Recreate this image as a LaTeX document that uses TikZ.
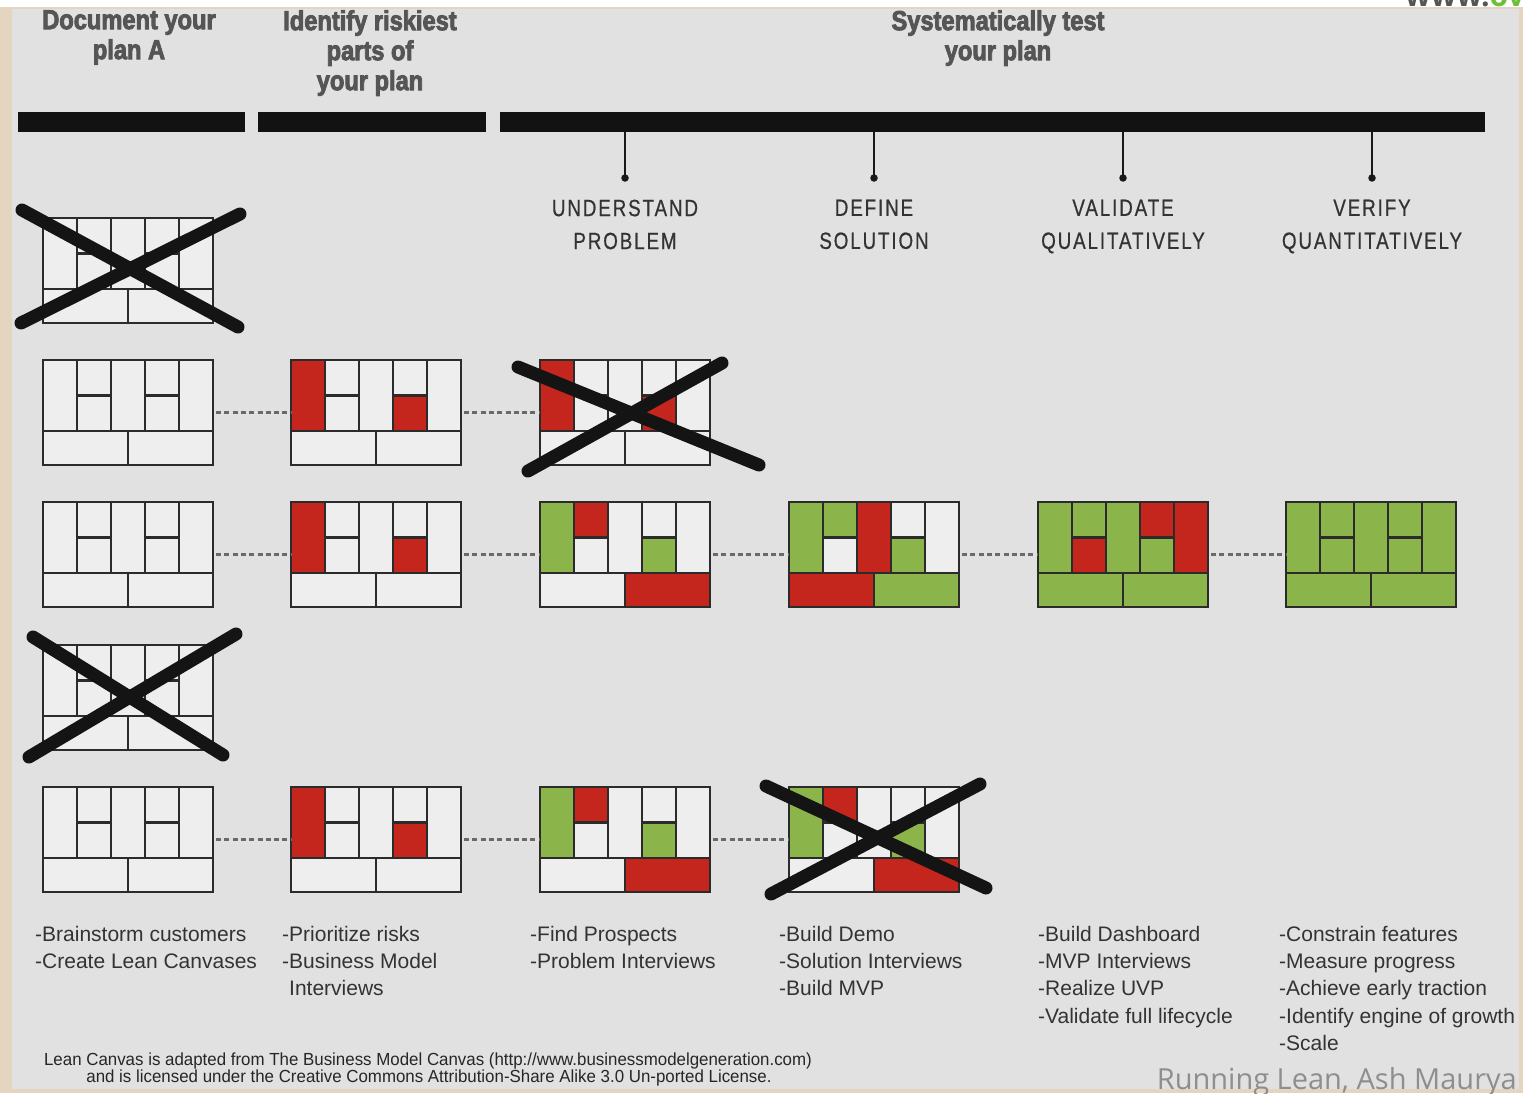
\documentclass[tikz,border=0pt]{standalone}
\usepackage{fontspec}
\setmainfont{Liberation Sans}
\newfontfamily\hdrfont[FakeStretch=0.86,BoldFeatures={FakeBold=3}]{Liberation Sans}
\newfontfamily\stagefont[FakeStretch=0.8,LetterSpace=8,FakeBold=0.6]{Liberation Sans}
\newfontfamily\bulfont{Liberation Sans}
\newfontfamily\footfont[FakeStretch=0.965]{Liberation Sans}
\newfontfamily\osfont{Open Sans}

\definecolor{bgGray}{HTML}{E1E1E1}
\definecolor{beige}{HTML}{E3D5BF}
\definecolor{cW}{HTML}{EEEEEE}
\definecolor{cR}{HTML}{C4261D}
\definecolor{cG}{HTML}{8BB54A}
\definecolor{lineC}{HTML}{2B2B2B}
\definecolor{hdrC}{HTML}{555555}
\definecolor{txtC}{HTML}{333333}
\definecolor{dashC}{HTML}{6A6A6A}
\definecolor{credC}{HTML}{8E8E8E}
\definecolor{wwwG}{HTML}{6BBF3A}

% cell order: c1, c2top, c2bot, c3, c4top, c4bot, c5, bottom-left, bottom-right
\def\pBlank{cW,cW,cW,cW,cW,cW,cW,cW,cW}
\def\pRisk{cR,cW,cW,cW,cW,cR,cW,cW,cW}
\def\pProb{cG,cR,cW,cW,cW,cG,cW,cW,cR}
\def\pSol{cG,cG,cW,cR,cW,cG,cW,cR,cG}
\def\pVal{cG,cG,cR,cG,cR,cG,cR,cG,cG}
\def\pVer{cG,cG,cG,cG,cG,cG,cG,cG,cG}

\newcommand\leancanvas[4]{%
  \node[canvasbox] (#1) at ({#2+85},{#3+52.5}) {};
  \begin{scope}[shift={(#1.north west)}]
    \foreach \ccol [count=\cidx] in #4 {%
      \ifcase\cidx\or
        \def\xa{0}\def\ya{0}\def\xb{34}\def\yb{71}\or
        \def\xa{34}\def\ya{0}\def\xb{68}\def\yb{35.5}\or
        \def\xa{34}\def\ya{35.5}\def\xb{68}\def\yb{71}\or
        \def\xa{68}\def\ya{0}\def\xb{102}\def\yb{71}\or
        \def\xa{102}\def\ya{0}\def\xb{136}\def\yb{35.5}\or
        \def\xa{102}\def\ya{35.5}\def\xb{136}\def\yb{71}\or
        \def\xa{136}\def\ya{0}\def\xb{170}\def\yb{71}\or
        \def\xa{0}\def\ya{71}\def\xb{85}\def\yb{105}\or
        \def\xa{85}\def\ya{71}\def\xb{170}\def\yb{105}\fi
      \fill[\ccol] (\xa,\ya) rectangle (\xb,\yb);
    }
    \draw[cline] (0,0) rectangle (170,105)
      (34,0) -- (34,71) (68,0) -- (68,71) (102,0) -- (102,71) (136,0) -- (136,71)
      (0,71) -- (170,71) (85,71) -- (85,105)
      (34,35.5) -- (68,35.5) (102,35.5) -- (136,35.5);
  \end{scope}
}

\begin{document}
\begin{tikzpicture}[x=1pt,y=-1pt,
  canvasbox/.style={minimum width=170pt,minimum height=105pt,inner sep=0pt,outer sep=0pt},
  cline/.style={draw=lineC,line width=2.2pt},
  conn/.style={draw=dashC,line width=2.2pt,dash pattern=on 5pt off 3.3pt,shorten <=3pt},
  xmark/.style={draw=black!92,line width=13pt,line cap=round},
  hbar/.style={fill=black!93,inner sep=0pt,minimum height=20pt},
  dotn/.style={circle,fill=black!90,inner sep=0pt,minimum size=7.5pt},
  stem/.style={draw=black!90,line width=2.4pt},
  hdr/.style={font=\hdrfont\bfseries\fontsize{27.5}{30}\selectfont,text=hdrC,align=center,inner sep=0pt,anchor=north},
  stage/.style={font=\stagefont\fontsize{23.5}{33}\selectfont,text=txtC,align=center,inner sep=0pt,anchor=north},
  bul/.style={font=\bulfont\fontsize{21}{27.2}\selectfont,text=txtC,align=left,inner sep=0pt,anchor=north west},
  foot/.style={font=\footfont\fontsize{17.5}{18}\selectfont,text=black!85,inner sep=0pt},
]
\useasboundingbox (0,0) rectangle (1523,1093);
% background
\fill[beige] (0,0) rectangle (1523,1093);
\fill[white] (0,0) rectangle (1523,7);
\fill[bgGray] (12,9) rectangle (1519,1089);
\begin{scope}
  \clip (1380,0) rectangle (1523,7.5);
  \node[anchor=base west,inner sep=0pt,font=\osfont\bfseries\fontsize{30}{30}\selectfont,text=hdrC] (www) at (1405,6) {www.\textcolor{wwwG}{ov}};
\end{scope}

% headers
\node[hdr] (h1) at (129,10) {Document your\\plan A};
\node[hdr] (h2) at (370,10) {Identify riskiest\\parts of\\your plan};
\node[hdr] (h3) at (998,10) {Systematically test\\your plan};

% bars
\node[hbar,minimum width=227pt] (bar1) at (131.5,122) {};
\node[hbar,minimum width=228pt] (bar2) at (372,122) {};
\node[hbar,minimum width=985pt] (bar3) at (992.5,122) {};

% stems and stage labels
\foreach \n/\x/\t in {1/625/UNDERSTAND\\PROBLEM, 2/874/DEFINE\\SOLUTION, 3/1123/VALIDATE\\QUALITATIVELY, 4/1372/VERIFY\\QUANTITATIVELY}{
  \node[dotn] (d\n) at (\x,178) {};
  \draw[stem] (d\n.center) -- (d\n.center |- bar3.south);
  \node[stage] (s\n) at (\x,199.5) {\t};
}

% canvases
\leancanvas{A1}{43}{218}{\pBlank}
\leancanvas{B1}{43}{360}{\pBlank}
\leancanvas{B2}{291}{360}{\pRisk}
\leancanvas{B3}{540}{360}{\pRisk}
\leancanvas{C1}{43}{502}{\pBlank}
\leancanvas{C2}{291}{502}{\pRisk}
\leancanvas{C3}{540}{502}{\pProb}
\leancanvas{C4}{789}{502}{\pSol}
\leancanvas{C5}{1038}{502}{\pVal}
\leancanvas{C6}{1286}{502}{\pVer}
\leancanvas{D1}{43}{645}{\pBlank}
\leancanvas{E1}{43}{787}{\pBlank}
\leancanvas{E2}{291}{787}{\pRisk}
\leancanvas{E3}{540}{787}{\pProb}
\leancanvas{E4}{789}{787}{\pProb}

% dashed connectors
\draw[conn] (B1.east) -- (B2.west);
\draw[conn] (B2.east) -- (B3.west);
\draw[conn] (C1.east) -- (C2.west);
\draw[conn] (C2.east) -- (C3.west);
\draw[conn] (C3.east) -- (C4.west);
\draw[conn] (C4.east) -- (C5.west);
\draw[conn] (C5.east) -- (C6.west);
\draw[conn] (E1.east) -- (E2.west);
\draw[conn] (E2.east) -- (E3.west);
\draw[conn] (E3.east) -- (E4.west);

% crosses
\draw[xmark] (22,210) -- (238,327);
\draw[xmark] (240,214) -- (21,323);
\draw[xmark] (518,367) -- (759,465);
\draw[xmark] (722,363) -- (528,471);
\draw[xmark] (33,637) -- (223,755);
\draw[xmark] (236,634) -- (29,757);
\draw[xmark] (766,786) -- (986,888);
\draw[xmark] (980,784) -- (771,894);

% bullet texts
\node[bul] (t1) at (35,926) {-Brainstorm customers\\-Create Lean Canvases};
\node[bul] (t2) at (282,926) {-Prioritize risks\\-Business Model\\\phantom{-}Interviews};
\node[bul] (t3) at (530,926) {-Find Prospects\\-Problem Interviews};
\node[bul] (t4) at (779,926) {-Build Demo\\-Solution Interviews\\-Build MVP};
\node[bul] (t5) at (1038,926) {-Build Dashboard\\-MVP Interviews\\-Realize UVP\\-Validate full lifecycle};
\node[bul] (t6) at (1279,926) {-Constrain features\\-Measure progress\\-Achieve early traction\\-Identify engine of growth\\-Scale};

% footer
\node[foot] (f1) at (428,1061) {Lean Canvas is adapted from The Business Model Canvas (http://www.businessmodelgeneration.com)};
\node[foot] (f2) at (429,1078) {and is licensed under the Creative Commons Attribution-Share Alike 3.0 Un-ported License.};
\node[anchor=base east,inner sep=0pt,font=\osfont\fontsize{29}{30}\selectfont,text=credC] (cr) at (1517,1089) {Running Lean, Ash Maurya};
\end{tikzpicture}
\end{document}
